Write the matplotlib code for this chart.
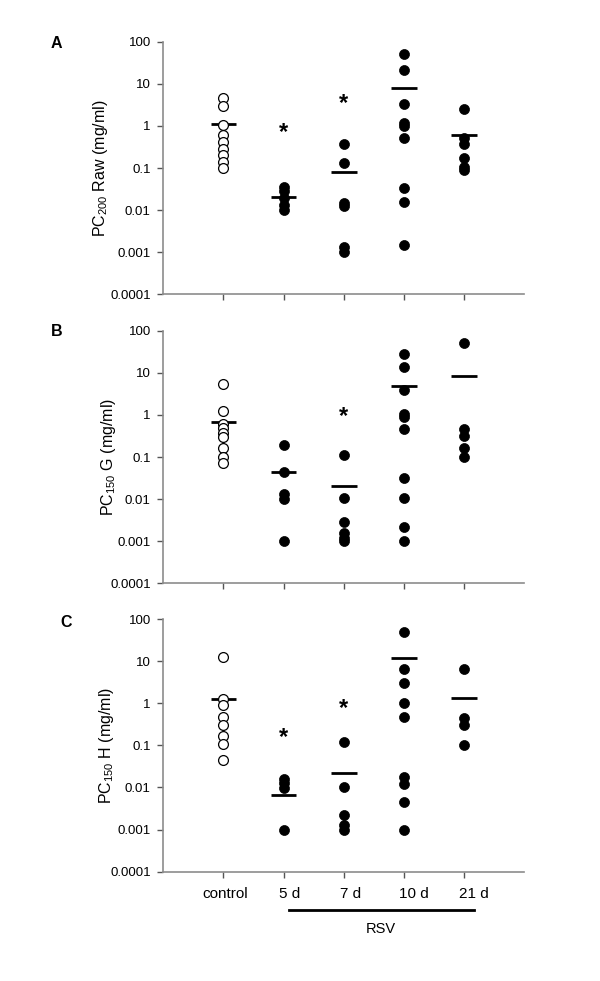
import numpy as np
import matplotlib
matplotlib.use('Agg')
import matplotlib.pyplot as plt
import matplotlib.transforms as mtransforms

plt.rcParams['font.family'] = ['Liberation Sans', 'DejaVu Sans']
plt.rcParams['mathtext.default'] = 'regular'

groups = ['control', '5 d', '7 d', '10 d', '21 d']

# panel A: PC200 Raw
a_control = [4.5, 2.9, 1.05, 0.6, 0.42, 0.28, 0.2, 0.14, 0.1]
a_5d = [0.036, 0.029, 0.019, 0.013, 0.010]
a_7d = [0.38, 0.135, 0.015, 0.0124, 0.0013, 0.001]
a_10d = [51, 21, 3.4, 1.19, 1.0, 0.53, 0.033, 0.0154, 0.0015]
a_21d = [2.55, 0.53, 0.37, 0.17, 0.107, 0.089]
a_means = [1.1, 0.0207, 0.08, 8.0, 0.62]
a_stars = {1: 0.82, 2: 4.1}

# panel B: PC150 G
b_control = [5.3, 1.26, 0.6, 0.48, 0.38, 0.3, 0.16, 0.10, 0.071]
b_5d = [0.196, 0.043, 0.013, 0.0099, 0.001]
b_7d = [0.111, 0.0104, 0.0028, 0.0016, 0.0012, 0.001]
b_10d = [27.9, 13.5, 3.9, 1.05, 0.87, 0.46, 0.032, 0.0108, 0.0022, 0.001]
b_21d = [50, 0.46, 0.315, 0.167, 0.098]
b_means = [0.69, 0.043, 0.0205, 4.85, 8.5]
b_stars = {2: 1.09}

# panel C: PC150 H
c_control = [12.8, 1.24, 0.91, 0.46, 0.31, 0.167, 0.108, 0.046]
c_5d = [0.0159, 0.0125, 0.0095, 0.001]
c_7d = [0.12, 0.0104, 0.0022, 0.00128, 0.001]
c_10d = [50, 6.6, 3.1, 0.99, 0.46, 0.0174, 0.0121, 0.0045, 0.001]
c_21d = [6.6, 0.44, 0.30, 0.1]
c_means = [1.26, 0.0066, 0.022, 12.1, 1.33]
c_stars = {1: 0.18, 2: 0.875}

ytick_vals = [0.0001, 0.001, 0.01, 0.1, 1, 10, 100]
ytick_labels = ['0.0001', '0.001', '0.01', '0.1', '1', '10', '100']

panels = [
    ('A', 'PC$_{200}$ Raw (mg/ml)', [a_control, a_5d, a_7d, a_10d, a_21d], a_means, a_stars, 0.9575, -0.148, (0.0945, 0.9559)),
    ('B', 'PC$_{150}$ G (mg/ml)', [b_control, b_5d, b_7d, b_10d, b_21d], b_means, b_stars, 0.6629, -0.126, (0.0945, 0.6616)),
    ('C', 'PC$_{150}$ H (mg/ml)', [c_control, c_5d, c_7d, c_10d, c_21d], c_means, c_stars, 0.3690, -0.131, (0.111, 0.365)),
]

fig = plt.figure(figsize=(6, 9.81), dpi=100)
grey = '#8c8c8c'
star_shift = mtransforms.ScaledTranslation(0, -3 / 100, fig.dpi_scale_trans)

for letter, ylab, data, means, stars, top, labx, lpos in panels:
    ax = fig.add_axes([0.2722, top - 0.2576, 0.6011, 0.2576])
    for i, vals in enumerate(data):
        x = np.full(len(vals), i + 1)
        if i == 0:
            ax.scatter(x, vals, s=50, facecolor='white', edgecolor='black', linewidth=0.9, zorder=3)
        else:
            ax.scatter(x, vals, s=52, facecolor='black', edgecolor='black', linewidth=0.5, zorder=3)
        ax.hlines(means[i], i + 1 - 0.215, i + 1 + 0.215, color='black', linewidth=2, zorder=2)
    for i, v in stars.items():
        ax.text(i + 1, v, '*', ha='center', va='center', fontsize=17, fontweight='bold',
                transform=ax.transData + star_shift)
    ax.set_yscale('log')
    ax.set_ylim(1e-4, 100)
    ax.set_xlim(0, 6)
    ax.set_yticks(ytick_vals)
    ax.set_yticklabels(ytick_labels)
    ax.yaxis.set_minor_locator(matplotlib.ticker.NullLocator())
    ax.set_xticks(range(1, 6))
    for s in ['top', 'right']:
        ax.spines[s].set_visible(False)
    for s in ['left', 'bottom']:
        ax.spines[s].set_color(grey)
        ax.spines[s].set_linewidth(1.2)
    ax.tick_params(axis='y', length=4, width=1, color='#555555', labelsize=9.5, pad=5)
    ax.tick_params(axis='x', length=4, width=1, color='#555555', labelsize=11, pad=7)
    ax.set_ylabel(ylab, fontsize=11.5)
    ax.yaxis.set_label_coords(labx, 0.5)
    fig.text(lpos[0], lpos[1], letter, fontsize=11.5, fontweight='bold', ha='center', va='center')
    if letter == 'C':
        ax.set_xticklabels(groups)
        offsets = [2, 6, 7, 10, 10]
        for lab, dx in zip(ax.get_xticklabels(), offsets):
            lab.set_transform(lab.get_transform() + mtransforms.ScaledTranslation(dx / 100, 0, fig.dpi_scale_trans))
        ax.plot([2.083, 5.167], [-0.1516, -0.1516], color='black', linewidth=2,
                transform=ax.get_xaxis_transform(), clip_on=False)
        ax.text(3.61, -0.227, 'RSV', ha='center', va='center', fontsize=10.5,
                transform=ax.get_xaxis_transform())
    else:
        ax.set_xticklabels([])

fig.savefig('out.png', dpi=100)
